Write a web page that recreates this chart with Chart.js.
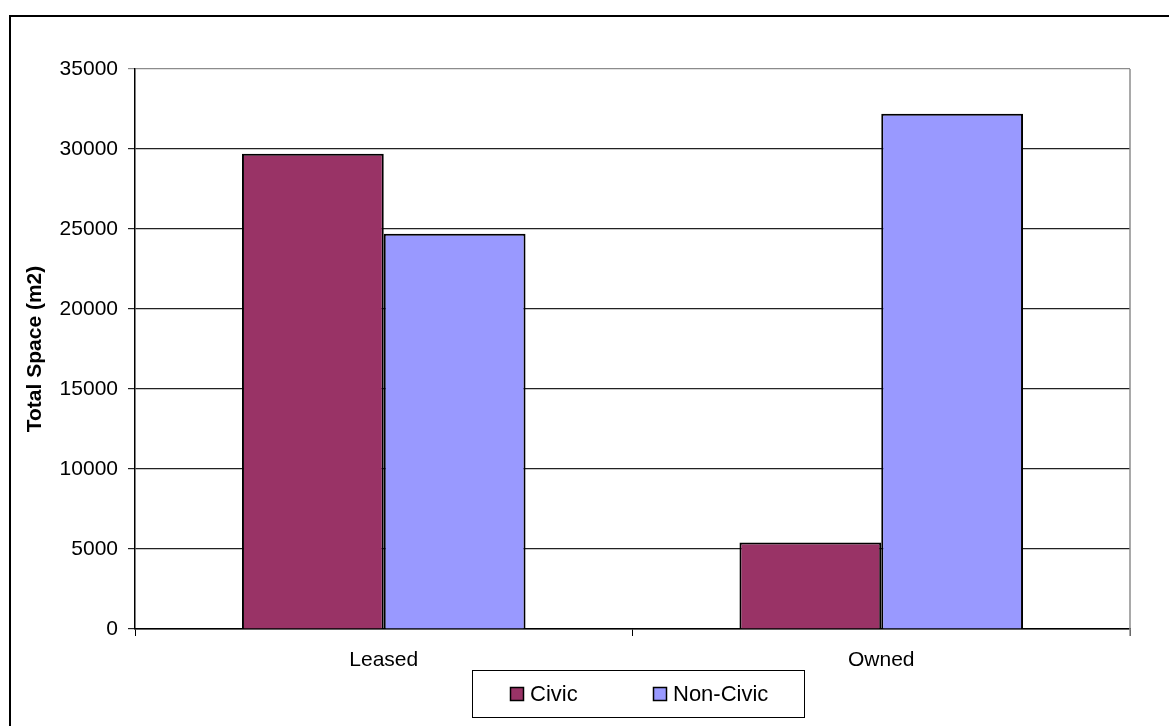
<!DOCTYPE html>
<html>
<head>
<meta charset="utf-8">
<script src="https://cdn.jsdelivr.net/npm/chart.js@4/dist/chart.umd.min.js"></script>
<style>
    html, body { margin: 0; padding: 0; background: #fff; }
    #wrap { width: 1169px; height: 726px; position: relative; }
</style>
</head>
<body>
<div id="wrap"><canvas id="spaceChart" width="1169" height="726"></canvas></div>
<script>
// Площадь помещений: аренда / собственность
const categories = ['Leased', 'Owned'];
const seriesNames = ['Civic', 'Non-Civic'];
const civicValues = [29700, 5400];
const nonCivicValues = [24700, 32200];
const seriesColors = ['#993366', '#9999FF'];
const yTicks = [0, 5000, 10000, 15000, 20000, 25000, 30000, 35000];

const FONT = 'Liberation Sans, Arial, sans-serif';

// Рамка вокруг всей диаграммы + правая граница области построения
const framePlugin = {
    id: 'frame',
    beforeDraw(chart) {
        const c = chart.ctx;
        c.save();
        c.fillStyle = '#fff';
        c.fillRect(0, 0, chart.width, chart.height);
        c.fillStyle = '#000';
        c.fillRect(9, 15, 2, chart.height);
        c.fillRect(9, 15, chart.width, 2);
        c.restore();
    },
    afterDraw(chart) {
        const a = chart.chartArea;
        const c = chart.ctx;
        c.save();
        c.strokeStyle = '#8c8c8c';
        c.lineWidth = 1.5;
        c.beginPath();
        c.moveTo(a.right, a.top);
        c.lineTo(a.right, a.bottom + 7);
        c.stroke();
        c.restore();
    }
};

// Легенда в рамке под осью X
const boxedLegend = {
    id: 'boxedLegend',
    afterDraw(chart) {
        const c = chart.ctx;
        const box = { x: 472, y: 670, w: 332, h: 47 };
        c.save();
        c.strokeStyle = '#000';
        c.lineWidth = 1;
        c.strokeRect(box.x + 0.5, box.y + 0.5, box.w, box.h);
        c.font = '22px ' + FONT;
        c.textBaseline = 'middle';
        const itemX = [510, 653];
        chart.data.datasets.forEach((ds, i) => {
            const sx = itemX[i];
            const sy = 687;
            c.fillStyle = ds.backgroundColor;
            c.fillRect(sx, sy, 14, 14);
            c.strokeStyle = '#000';
            c.lineWidth = 1.5;
            c.strokeRect(sx + 0.5, sy + 0.5, 13, 13);
            c.fillStyle = '#000';
            c.fillText(ds.label, sx + 20, sy + 8);
        });
        c.restore();
    }
};

new Chart(document.getElementById('spaceChart').getContext('2d'), {
    type: 'bar',
    data: {
        labels: categories,
        datasets: [
            {
                label: seriesNames[0],
                data: civicValues,
                backgroundColor: seriesColors[0],
                borderColor: '#000',
                borderWidth: 2
            },
            {
                label: seriesNames[1],
                data: nonCivicValues,
                backgroundColor: seriesColors[1],
                borderColor: '#000',
                borderWidth: 2
            }
        ]
    },
    options: {
        responsive: false,
        animation: false,
        layout: {
            padding: { left: 10, right: 39, top: 69, bottom: 0 }
        },
        datasets: {
            bar: {
                categoryPercentage: 0.57,
                barPercentage: 1.0
            }
        },
        plugins: {
            legend: { display: false },
            tooltip: { enabled: false }
        },
        scales: {
            x: {
                afterFit(scale) { scale.height = 97; },
                grid: {
                    offset: true,
                    drawOnChartArea: false,
                    color: '#000',
                    tickLength: 7
                },
                border: { color: '#000', width: 1.5 },
                ticks: {
                    color: '#000',
                    padding: 12,
                    font: { family: FONT, size: 21 }
                }
            },
            y: {
                min: 0,
                max: 35000,
                afterFit(scale) { scale.width = 125; },
                afterBuildTicks(scale) {
                    scale.ticks = yTicks.map(v => ({ value: v }));
                },
                grid: {
                    color: ctx => (ctx.tick && ctx.tick.value === 35000) ? '#8c8c8c' : '#222',
                    lineWidth: 1.2,
                    tickLength: 7
                },
                border: { color: '#000', width: 1.5 },
                ticks: {
                    color: '#000',
                    padding: 10,
                    font: { family: FONT, size: 21 },
                    callback: value => String(value)
                },
                title: {
                    display: true,
                    text: 'Total Space (m2)',
                    color: '#000',
                    padding: { top: 13, bottom: 0 },
                    font: { family: FONT, size: 21, weight: 'bold' }
                }
            }
        }
    },
    plugins: [framePlugin, boxedLegend]
});
</script>
</body>
</html>
